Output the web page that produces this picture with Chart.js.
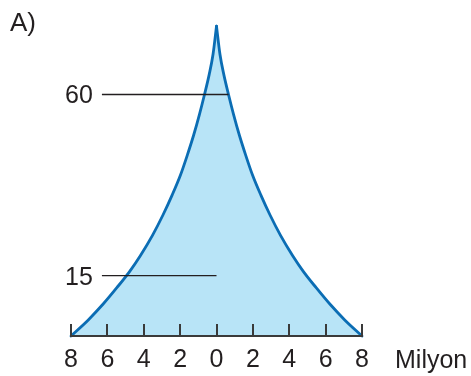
<!DOCTYPE html>
<html>
<head>
<meta charset="utf-8">
<script src="https://cdn.jsdelivr.net/npm/chart.js@4"></script>
<style>
  body { margin: 0; background: #fff; }
  #wrap { width: 471px; height: 376px; }
</style>
</head>
<body>
<div id="wrap"><canvas id="pyramid"></canvas></div>
<script>
// === Veri (yaş / milyon kişi, her iki taraf için)
const ages = [0, 4, 8, 12, 16, 20, 25, 30, 35, 40, 45, 50, 55, 60, 65, 70, 77];
const millions = [8, 7.05, 6.22, 5.48, 4.78, 4.18, 3.52, 2.95, 2.44, 1.98, 1.6, 1.25, 0.94, 0.66, 0.4, 0.19, 0];
const xTicks = [-8, -6, -4, -2, 0, 2, 4, 6, 8];
const markerAges = [60, 15];
const markerFrom = [-6.3, -6.3];
const markerTo = [0.66, 0];

const TEXT = "#231f20";
const FONT = "'Liberation Sans', Arial, sans-serif";

const leftSide = ages.map((a, i) => ({ x: -millions[i], y: a }));
const rightSide = ages.map((a, i) => ({ x: millions[i], y: a })).reverse();

// === Çentikler ve yazılar
const extras = {
  id: "extras",
  afterDatasetsDraw(chart) {
    const { ctx, scales, chartArea } = chart;
    const x = scales.x, y = scales.y;
    ctx.save();
    ctx.strokeStyle = "#3a3a3a";
    ctx.lineWidth = 2;
    xTicks.forEach((v) => {
      const px = Math.round(x.getPixelForValue(v));
      ctx.beginPath();
      ctx.moveTo(px, chartArea.bottom);
      ctx.lineTo(px, chartArea.bottom - 12);
      ctx.stroke();
    });
    ctx.fillStyle = TEXT;
    ctx.font = "25px " + FONT;
    ctx.textAlign = "right";
    ctx.textBaseline = "middle";
    markerAges.forEach((a, i) => {
      ctx.fillText(String(a), x.getPixelForValue(markerFrom[i]) - 9, y.getPixelForValue(a) + 2);
    });
    ctx.textAlign = "left";
    ctx.textBaseline = "alphabetic";
    ctx.fillText("Milyon", x.getPixelForValue(8) + 33, 368);
    ctx.font = "26px " + FONT;
    ctx.fillText("A)", 10, 31);
    ctx.restore();
  },
};

const ctx = document.getElementById("pyramid").getContext("2d");
new Chart(ctx, {
  type: "line",
  data: {
    datasets: [
      ...markerAges.map((a, i) => ({
        data: [{ x: markerFrom[i], y: a }, { x: markerTo[i], y: a }],
        borderColor: TEXT,
        borderWidth: 1.3,
        pointRadius: 0,
        order: 0,
      })),
      {
        data: leftSide,
        borderColor: "#0b6db4",
        borderWidth: 2.8,
        borderCapStyle: "round",
        cubicInterpolationMode: "monotone",
        pointRadius: 0,
        clip: false,
        order: 1,
      },
      {
        data: rightSide,
        borderColor: "#0b6db4",
        borderWidth: 2.8,
        borderCapStyle: "round",
        cubicInterpolationMode: "monotone",
        pointRadius: 0,
        clip: false,
        order: 1,
      },
      {
        data: leftSide.concat(rightSide.slice(1)),
        borderWidth: 0,
        backgroundColor: "rgb(184, 228, 247)",
        fill: "origin",
        pointRadius: 0,
        order: 3,
      },
    ],
  },
  options: {
    responsive: true,
    maintainAspectRatio: false,
    animation: false,
    events: [],
    layout: { padding: { left: 71, right: 109, top: 14, bottom: 0 } },
    plugins: { legend: { display: false }, tooltip: { enabled: false } },
    scales: {
      x: {
        type: "linear",
        min: -8,
        max: 8,
        afterBuildTicks: (s) => { s.ticks = xTicks.map((v) => ({ value: v })); },
        afterFit: (s) => { s.height = 40; },
        grid: { display: false, drawTicks: false },
        border: { display: true, color: "#3a3a3a", width: 2, z: 1 },
        ticks: {
          color: TEXT,
          font: { family: FONT, size: 25 },
          padding: 9,
          maxRotation: 0,
          callback: (v) => Math.abs(v),
        },
      },
      y: { type: "linear", min: 0, max: 80, display: false },
    },
  },
  plugins: [extras],
});
</script>
</body>
</html>
